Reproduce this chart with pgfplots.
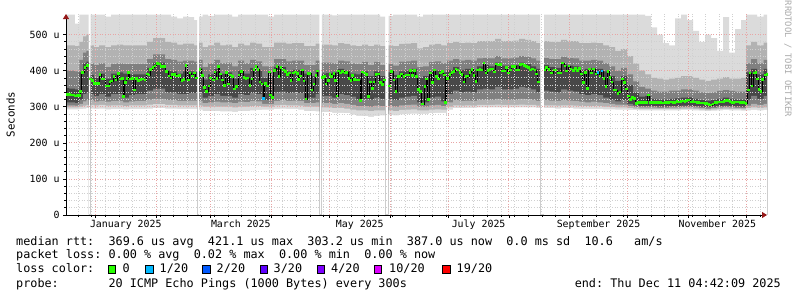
\documentclass[border=0pt]{standalone}
\usepackage{fontspec}
\setmainfont{DejaVu Sans Mono}
\usepackage{pgfplots}
\pgfplotsset{compat=1.18}
\usepackage{pgfplotstable}
\usetikzlibrary{arrows.meta}

\definecolor{sA}{RGB}{219,219,219}
\definecolor{sB}{RGB}{178,178,178}
\definecolor{sC}{RGB}{128,128,128}
\definecolor{sD}{RGB}{72,72,72}
\definecolor{lossA}{RGB}{38,255,0}
\definecolor{lossB}{RGB}{0,184,255}
\definecolor{lossC}{RGB}{0,89,255}
\definecolor{lossD}{RGB}{94,0,255}
\definecolor{lossE}{RGB}{126,0,255}
\definecolor{lossF}{RGB}{221,0,255}
\definecolor{lossG}{RGB}{255,0,0}
\definecolor{mgrid}{RGB}{232,165,165}
\definecolor{ngrid}{RGB}{208,208,208}
\definecolor{arrowred}{RGB}{150,25,25}
\definecolor{rrdgray}{RGB}{170,170,170}

\newcommand\legfont{\fontsize{11.8}{14}\selectfont}
\newcommand\tickfont{\fontsize{9.9}{12}\selectfont}

% smoke bands: t = position, hi/u1/u2/u3 = upper band edges, l3/l2/l1/lo = lower band edges (us)
\pgfplotstableread{
t hi u1 u2 u3 l3 l2 l1 lo
66 555 470 400 352 312 304 298 293
72 555 470 400 350 312 304 298 293
77.5 530 468 398 348 310 303 298 293
81 555 480 430 395 320 308 300 294
85 555 495 450 420 335 315 303 295
87.5 555 500 455 425 340 318 305 296
89.5 0 0 0 0 0 0 0 0
91.5 555 470 420 388 335 318 305 295
96 555 465 415 380 330 315 304 294
102 555 470 420 392 335 317 305 295
108 550 465 410 378 328 314 303 293
114 555 470 418 392 335 316 304 294
120 555 472 420 395 335 316 304 294
126 555 470 418 392 325 312 302 293
132 555 470 418 390 332 315 304 294
138 555 470 418 390 335 316 304 294
144 555 470 418 390 335 316 304 294
150 555 480 432 408 345 320 306 295
156 555 490 445 422 350 322 307 296
162 555 490 445 422 350 322 307 296
168 555 480 432 400 340 318 305 295
174 550 478 430 398 340 318 305 295
180 545 472 425 392 335 316 304 294
186 550 475 428 398 335 316 304 294
192 548 475 428 398 338 317 304 294
196 540 470 425 396 338 317 304 294
198 0 0 0 0 0 0 0 0
200 550 478 430 406 338 316 303 292
205 555 465 410 375 325 310 300 288
211 552 470 420 390 330 312 300 288
217 555 478 430 405 335 314 300 288
223 555 470 420 392 330 312 300 287
229 555 472 422 395 330 312 300 287
235 550 465 412 378 325 310 298 286
241 555 475 428 400 335 314 300 288
247 555 470 420 392 332 313 300 288
253 555 478 430 408 338 316 302 290
259 555 475 426 400 335 315 302 291
265 555 465 412 380 318 308 300 292
271 550 465 412 385 318 308 300 292
277 555 478 432 410 340 316 304 294
283 555 478 432 410 342 318 305 295
289 555 475 426 398 338 316 304 294
295 555 476 428 402 340 317 304 294
301 555 476 428 402 338 316 303 292
307 555 468 415 392 325 310 300 288
313 555 468 415 385 325 310 300 288
318 555 475 428 402 335 312 300 287
320.5 0 0 0 0 0 0 0 0
323 555 472 422 392 330 310 298 285
329 555 472 422 393 330 310 298 285
335 553 470 420 395 325 308 296 283
341 555 476 428 405 335 310 297 283
347 555 474 426 400 332 308 295 282
353 555 470 420 392 328 305 292 278
359 555 468 418 390 320 302 290 275
365 555 472 424 398 322 302 290 274
371 555 468 415 385 320 300 288 272
377 555 472 424 398 325 303 290 275
383 550 468 415 385 322 302 290 276
387 0 0 0 0 0 0 0 0
390 552 470 418 395 322 302 290 277
396 555 468 414 388 318 300 288 276
402 555 474 425 398 325 304 291 279
408 555 475 426 400 328 305 292 280
414 555 476 428 405 330 306 293 281
420 550 462 410 380 312 300 290 280
426 555 465 412 385 312 300 290 280
432 555 472 424 398 325 304 292 282
438 555 474 426 400 328 305 293 283
444 555 470 420 395 315 302 292 283
450 555 476 428 402 335 312 300 292
456 555 480 432 410 345 318 304 296
462 555 476 428 402 340 316 303 296
468 555 478 430 405 342 317 304 297
474 555 476 428 402 340 316 303 297
480 555 482 434 412 348 320 305 298
486 555 482 435 415 350 320 305 298
492 555 482 434 412 348 320 305 298
498 555 488 440 422 355 322 306 298
504 555 482 434 414 348 320 305 298
510 555 482 434 414 348 320 305 298
516 555 483 436 415 350 320 305 298
522 555 488 440 422 355 322 306 298
528 555 485 438 418 352 321 305 298
534 555 482 434 412 348 320 305 298
538 555 476 428 405 340 316 303 296
542 0 0 0 0 0 0 0 0
546 555 482 435 415 345 318 304 296
552 555 480 432 410 342 317 304 296
558 555 480 432 408 340 316 303 295
564 555 485 438 418 348 318 304 296
570 555 482 435 414 345 317 304 296
576 555 482 434 412 342 316 303 295
582 555 476 428 402 335 314 302 294
588 555 476 428 405 332 312 302 294
594 555 478 430 408 335 314 302 294
600 555 476 428 405 332 312 302 294
606 555 470 420 398 325 310 300 293
612 555 465 412 385 320 308 299 293
618 555 455 400 372 315 306 298 292
624 555 460 408 385 318 306 298 292
630 555 440 390 360 308 302 296 291
636 555 420 370 340 304 299 295 291
642 555 400 355 328 302 298 294 290
648 552 390 350 330 302 298 294 290
654 520 380 345 322 302 298 294 290
660 500 378 342 320 301 297 294 290
666 476 375 342 320 301 297 294 290
672 470 378 345 322 302 298 294 290
678 545 380 345 323 302 298 294 290
684 555 385 348 325 303 299 295 291
690 540 385 348 326 303 299 295 291
696 510 380 345 322 302 298 294 290
702 480 375 340 318 300 296 293 289
708 500 372 338 316 299 295 292 288
714 490 375 340 318 300 296 293 289
720 455 378 344 322 302 298 294 290
726 548 382 346 325 303 299 295 291
732 450 378 344 322 302 298 294 290
738 515 378 342 320 301 297 294 290
744 540 380 342 320 300 296 293 289
748 555 470 420 395 320 303 296 290
754 555 480 432 405 330 308 298 291
760 550 470 420 390 322 305 297 290
767 555 478 430 405 330 308 298 291
}\smoke

% median rtt (us)
\pgfplotstableread{
t m
67.5 334
69.5 334
71.5 333
73.5 333
75.5 330
77.5 331
79.5 331
80.7 343
82.7 395
85.0 408
87.3 415
89.3 nan
90.7 377
92.3 372
94.3 365
96.3 365
98.3 365
100.0 390
102.3 377
104.0 377
106.7 357
108.3 357
110.0 369
111.7 371
114.0 384
116.0 374
118.3 392
120.0 377
122.3 379
123.7 328
125.3 367
127.0 379
128.7 395
130.7 377
132.7 378
134.7 346
136.7 379
138.7 372
141.0 376
143.0 377
145.0 374
147.3 391
149.0 388
150.7 404
153.0 409
155.0 413
157.3 420
159.3 418
161.3 411
162.8 412
164.3 411
166.7 397
169.0 385
171.0 380
172.7 390
175.0 389
176.7 385
179.3 387
182.0 373
184.0 376
186.0 414
188.3 374
190.0 394
192.3 385
194.3 394
196.7 380
197.8 nan
200.0 404
202.7 387
204.3 354
206.7 342
209.0 357
210.7 380
213.3 374
215.0 396
217.0 378
218.7 411
220.7 391
222.7 374
224.7 359
226.7 395
228.7 363
230.7 388
232.7 384
234.7 349
236.7 356
239.0 388
241.7 398
244.0 381
246.0 378
248.0 380
250.0 359
252.0 377
254.0 404
256.0 412
258.0 404
260.0 369
262.0 363
263.7 323
265.3 365
267.3 357
269.3 396
270.7 332
272.7 325
274.7 400
277.0 411
279.0 384
281.0 409
283.3 402
285.3 397
287.7 389
289.5 393
291.0 373
293.3 393
295.7 396
297.3 392
298.7 376
300.7 385
302.3 402
304.0 371
306.0 322
308.3 392
310.0 392
312.0 346
314.0 363
316.0 387
317.7 399
320.5 nan
322.7 381
324.3 383
326.0 363
328.3 372
330.0 390
331.7 383
334.0 392
335.7 372
337.0 330
338.7 399
340.7 394
342.7 397
345.0 394
346.7 395
349.0 379
351.0 372
352.7 386
354.3 376
356.7 374
359.0 374
360.7 318
362.3 396
364.3 394
366.7 390
368.7 328
370.7 369
372.3 350
374.0 369
376.0 390
378.3 391
380.3 367
382.3 361
384.3 374
387.0 nan
389.3 358
391.7 398
394.0 374
396.0 342
398.3 383
400.0 385
401.7 391
404.0 383
406.0 388
408.3 388
410.7 400
412.3 387
414.3 400
416.7 383
418.7 348
420.7 343
422.7 308
425.0 356
426.7 377
428.7 320
430.7 393
432.7 367
434.7 402
436.7 383
438.7 377
440.7 393
442.7 397
444.3 388
445.7 311
447.7 379
450.0 389
452.0 395
454.0 397
456.0 405
458.0 402
460.0 395
462.0 389
464.0 369
466.0 383
468.0 385
470.0 395
472.0 404
474.0 387
476.0 370
477.7 402
480.0 404
482.0 402
484.0 421
486.0 393
488.0 400
490.0 404
492.3 405
494.3 396
496.7 418
498.7 416
500.7 417
502.7 399
504.7 399
506.7 409
508.7 393
510.7 402
512.7 412
515.0 411
516.7 402
518.7 402
520.7 417
522.7 418
524.7 414
526.7 411
528.7 408
530.7 402
532.7 405
535.0 402
536.7 391
538.3 369
542.0 nan
545.0 402
546.7 409
549.0 404
551.7 394
554.0 402
556.0 402
558.3 394
560.7 393
562.7 421
565.0 413
566.7 399
569.0 413
571.0 405
573.3 400
575.3 406
577.3 400
579.3 406
581.3 391
583.7 367
585.7 395
587.7 351
589.7 405
591.7 394
593.7 405
596.0 391
598.0 395
600.0 385
602.0 399
604.0 379
606.0 356
608.0 397
610.0 381
612.0 369
614.0 346
616.0 346
618.0 337
620.0 341
622.3 377
624.7 367
626.7 349
628.7 330
630.7 320
632.7 326
634.7 323
636.7 309
638.7 312
640.7 312
642.7 312
644.7 312
646.7 311
648.7 332
650.7 311
653 312
655 311
657 311
659 312
661 311
663 310
665 311
667 312
669 311
671 313
673 311
675 312
677 314
679 313
681 315
683 316
685 314
687 317
689 319
691 313
693 314
695 313
697 312
699 311
701 310
703 310
705 309
707 309
709 307
711 305
713 308
715 311
717 312
719 313
721.7 313
724 314
726 317
728 317
730 314
732 312
734 312
736 313
738 313
740 312
742 312
744 311
746 309
748.3 346
750 393
752 358
754 394
756 395
757.3 377
759 348
761 342
762.7 376
765 388
767 390
}\med

\begin{document}
\frenchspacing
\begin{tikzpicture}
\path[use as bounding box] (0,0) rectangle (797pt,297pt);
\begin{axis}[
  at={(66pt,82pt)}, anchor=south west,
  scale only axis, width=701pt, height=201pt,
  xmin=66, xmax=767, ymin=0, ymax=557,
  axis lines=left,
  axis line style={line width=0.8pt, black},
  x axis line style={-{Triangle[length=5pt,width=6pt,color=arrowred,fill=arrowred]}},
  y axis line style={-{Triangle[length=5pt,width=6pt,color=arrowred,fill=arrowred]}},
  axis on top,
  xtick={95.6,156.0,210.6,271.0,329.5,389.9,448.4,508.8,569.2,627.7,688.1,746.6},
  xticklabels={},
  minor xtick={78.08,91.72,...,765},
  extra x ticks={125.8,240.8,359.8,478.6,598.5,717.3},
  extra x tick labels={January 2025,March 2025,May 2025,July 2025,September 2025,November 2025},
  extra x tick style={grid=none, major tick length=0pt},
  ytick={0,100,...,500},
  yticklabels={0,100 u,200 u,300 u,400 u,500 u},
  minor y tick num=4,
  grid=both,
  major grid style={mgrid, line width=0.75pt, dash pattern=on 1pt off 1.6pt},
  minor grid style={ngrid, line width=0.75pt, dash pattern=on 1pt off 1.6pt},
  tick align=outside, major tick length=3pt, minor tick length=2pt,
  tick style={black, line width=0.6pt},
  ticklabel style={font=\tickfont},
  xticklabel style={anchor=base, yshift=-12.5pt},
  yticklabel style={anchor=east},
]
\addplot[const plot mark mid, draw=none, fill=sA] table[x=t,y=hi]{\smoke} \closedcycle;
\addplot[const plot mark mid, draw=none, fill=sB] table[x=t,y=u1]{\smoke} \closedcycle;
\addplot[const plot mark mid, draw=none, fill=sC] table[x=t,y=u2]{\smoke} \closedcycle;
\addplot[const plot mark mid, draw=none, fill=sD] table[x=t,y=u3]{\smoke} \closedcycle;
\addplot[const plot mark mid, draw=none, fill=sC] table[x=t,y=l3]{\smoke} \closedcycle;
\addplot[const plot mark mid, draw=none, fill=sB] table[x=t,y=l2]{\smoke} \closedcycle;
\addplot[const plot mark mid, draw=none, fill=sA] table[x=t,y=l1]{\smoke} \closedcycle;
\addplot[const plot mark mid, draw=none, fill=white] table[x=t,y=lo]{\smoke} \closedcycle;
\addplot[const plot mark mid, black, line width=0.55pt, unbounded coords=jump] table[x=t,y=m]{\med};
\addplot[only marks, mark=-, mark size=1.35pt, mark options={draw=lossA, line width=2.6pt}] table[x=t,y=m]{\med};
\addplot[only marks, mark=-, mark size=1.35pt, mark options={draw=lossB, line width=2.6pt}] coordinates {(263.7,323) (598,395) (602,399)};
\end{axis}
\node[rotate=90, font=\fontsize{10.8}{12}\selectfont] at (10.5pt,182.5pt) {Seconds};
\node[rotate=-90, font=\fontsize{8.8}{10}\selectfont, text=rrdgray] at (788pt,238pt) {RRDTOOL / TOBI OETIKER};
\node[anchor=base west, inner sep=0pt, font=\legfont] at (16pt,51.7pt) {median rtt:~~369.6 us avg~~421.1 us max~~303.2 us min~~387.0 us now~~0.0 ms sd~~10.6~~~am/s};
\node[anchor=base west, inner sep=0pt, font=\legfont] at (16pt,38pt) {packet loss: 0.00 \% avg~~0.02 \% max~~0.00 \% min~~0.00 \% now};
\node[anchor=base west, inner sep=0pt, font=\legfont] at (16pt,24pt) {loss color:};
\node[anchor=base west, inner sep=0pt, font=\legfont] at (16pt,10pt) {probe:~~~~~~~20 ICMP Echo Pings (1000 Bytes) every 300s};
\node[anchor=base east, inner sep=0pt, font=\legfont] at (781pt,10pt) {end: Thu Dec 11 04:42:09 2025};
\tikzset{sw/.style={draw=black, line width=0.8pt, fill=#1, minimum width=7.2pt, minimum height=8.4pt, inner sep=0pt, outer sep=0pt, anchor=south west}}
\node[sw=lossA] at (108.3pt,23.4pt) {};
\node[sw=lossB] at (145.7pt,23.4pt) {};
\node[sw=lossC] at (202.7pt,23.4pt) {};
\node[sw=lossD] at (260.0pt,23.4pt) {};
\node[sw=lossE] at (317.3pt,23.4pt) {};
\node[sw=lossF] at (374.0pt,23.4pt) {};
\node[sw=lossG] at (442.7pt,23.4pt) {};
\node[anchor=base west, inner sep=0pt, font=\legfont] at (122.5pt,24pt) {0};
\node[anchor=base west, inner sep=0pt, font=\legfont] at (159.5pt,24pt) {1/20};
\node[anchor=base west, inner sep=0pt, font=\legfont] at (216.5pt,24pt) {2/20};
\node[anchor=base west, inner sep=0pt, font=\legfont] at (273.5pt,24pt) {3/20};
\node[anchor=base west, inner sep=0pt, font=\legfont] at (331pt,24pt) {4/20};
\node[anchor=base west, inner sep=0pt, font=\legfont] at (389pt,24pt) {10/20};
\node[anchor=base west, inner sep=0pt, font=\legfont] at (456.5pt,24pt) {19/20};
\end{tikzpicture}
\end{document}
